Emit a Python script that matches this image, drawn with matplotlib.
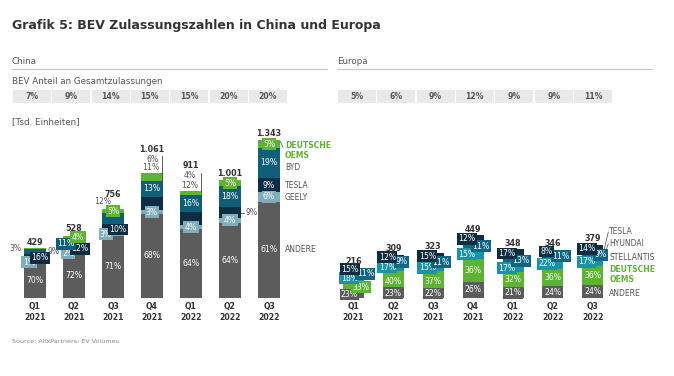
import matplotlib
matplotlib.use('Agg')
import matplotlib.pyplot as plt
from matplotlib.patches import Rectangle
from matplotlib.lines import Line2D

W, H = 674, 376
plt.rcParams['font.family'] = ['DejaVu Sans']

# ---------------- data ----------------
quarters = ['Q1', 'Q2', 'Q3', 'Q4', 'Q1', 'Q2', 'Q3']
years = ['2021', '2021', '2021', '2021', '2022', '2022', '2022']

china_share = ['7%', '9%', '14%', '15%', '15%', '20%', '20%']
europe_share = ['5%', '6%', '9%', '12%', '9%', '9%', '11%']

china_totals = [429, 528, 756, 1061, 911, 1001, 1343]
china_total_labels = ['429', '528', '756', '1.061', '911', '1.001', '1.343']
china_names = ['ANDERE', 'GEELY', 'TESLA', 'BYD', 'DEUTSCHE\nOEMS']
china_andere = [70, 72, 71, 68, 64, 64, 61]
china_geely = [1, 2, 3, 3, 4, 4, 6]
china_tesla = [16, 12, 10, 11, 12, 9, 9]
china_byd = [9, 11, 12, 13, 16, 18, 19]
china_de = [3, 4, 5, 6, 4, 5, 5]

europe_totals = [216, 309, 323, 449, 348, 346, 379]
europe_total_labels = ['216', '309', '323', '449', '348', '346', '379']
europe_names = ['ANDERE', 'DEUTSCHE\nOEMS', 'STELLANTIS', 'HYUNDAI', 'TESLA']
europe_andere = [23, 23, 22, 26, 21, 24, 24]
europe_de = [33, 40, 37, 36, 32, 36, 36]
europe_stellantis = [18, 17, 15, 15, 17, 22, 17]
europe_hyundai = [11, 9, 11, 11, 13, 11, 9]
europe_tesla = [15, 12, 15, 12, 17, 8, 14]

# ---------------- styles ----------------
C_GREY = '#5c5c5c'
C_GEELY = '#7fadbc'
C_NAVY = '#0d2e42'
C_TEAL = '#0f5f78'
C_CYAN = '#1a93a8'
C_GREEN = '#5db431'
TXT = '#555555'
DARK = '#333333'

china_colors = [C_GREY, C_GEELY, C_NAVY, C_TEAL, C_GREEN]
europe_colors = [C_GREY, C_GREEN, C_CYAN, '#0f6682', C_NAVY]

fig = plt.figure(figsize=(W / 100, H / 100), dpi=100)


def fpos(x, y):
    return x / W, 1 - y / H


# ---------------- header ----------------
fig.text(*fpos(12, 25), 'Grafik 5: BEV Zulassungszahlen in China und Europa',
         fontsize=9.0, fontweight='bold', color=DARK, ha='left', va='center')

for (x0, x1, name, shares) in [(12, 327, 'China', china_share),
                               (337, 652, 'Europa', europe_share)]:
    fig.text(*fpos(x0, 61), name, fontsize=6.3, color=TXT, ha='left', va='center')
    fig.add_artist(Line2D([x0 / W, x1 / W], [1 - 69 / H, 1 - 69 / H],
                          color='#cfcfcf', lw=1.0, transform=fig.transFigure))
    for i, s in enumerate(shares):
        bx = x0 + 0.7 + 39.4 * i
        fig.add_artist(Rectangle(fpos(bx, 103), 38.0 / W, 13 / H, facecolor='#e9e9e9',
                                 edgecolor='none', transform=fig.transFigure))
        fig.text(*fpos(bx + 19, 96.5), s, fontsize=5.6, fontweight='bold',
                 color=TXT, ha='center', va='center')

fig.text(*fpos(12, 82), 'BEV Anteil an Gesamtzulassungen', fontsize=6.3, color=TXT,
         ha='left', va='center')
fig.text(*fpos(12, 122), '[Tsd. Einheiten]', fontsize=6.3, color=TXT, ha='left', va='center')
fig.text(*fpos(12, 341), 'Source: AlixPartners; EV Volumes', fontsize=4.6, color='#888888',
         ha='left', va='center')

YBASE = 298
YTOP = 120


def make_axes(x0, x1, c0, sp, ppu):
    ax = fig.add_axes([x0 / W, 1 - YBASE / H, (x1 - x0) / W, (YBASE - YTOP) / H])
    ax.set_xlim((x0 - c0) / sp, (x1 - c0) / sp)
    ax.set_ylim(0, (YBASE - YTOP) / ppu)
    ax.axis('off')
    return ax


def draw_panel(ax, totals, total_labels, series, colors, width, ppu, seg_style,
               total_off, base_range):
    n = len(totals)
    ax.plot(base_range, [0, 0], color='#d4d4d4', lw=0.8, zorder=1)
    tops = []
    centers = []
    for i in range(n):
        pcts = [s[i] for s in series]
        ssum = sum(pcts)
        bottom = 0.0
        cents = []
        for k, p in enumerate(pcts):
            h = totals[i] * p / ssum
            ax.bar(i, h, bottom=bottom, width=width, color=colors[k], edgecolor='none', zorder=2)
            cents.append(bottom + h / 2)
            bottom += h
        tops.append(bottom)
        centers.append(cents)
        for k, p in enumerate(pcts):
            st = seg_style.get((i, k), {})
            dx, dy = st.get('dx', 0), st.get('dy', 0)
            mode = st.get('mode', 'box')
            if mode == 'box':
                ax.annotate(f'{p}%', xy=(i, cents[k]), xytext=(dx, -dy), textcoords='offset pixels',
                            ha='center', va='center', fontsize=5.6, color='white', zorder=5,
                            bbox=dict(boxstyle='square,pad=0.18', fc=colors[k], ec='none'))
            else:
                ax.annotate(f'{p}%', xy=(i, cents[k]), xytext=(dx, -dy), textcoords='offset pixels',
                            ha=st.get('ha', 'center'), va='center', fontsize=5.6, color=TXT, zorder=5)
        ax.annotate(total_labels[i], xy=(i, bottom), xytext=(0, total_off.get(i, 7)),
                    textcoords='offset pixels', ha='center', va='center', fontsize=5.8,
                    fontweight='bold', color=DARK, zorder=5)
        ax.annotate(quarters[i], xy=(i, 0), xytext=(0, -9), textcoords='offset pixels',
                    ha='center', va='center', fontsize=5.6, fontweight='bold', color=DARK)
        ax.annotate(years[i], xy=(i, 0), xytext=(0, -20), textcoords='offset pixels',
                    ha='center', va='center', fontsize=5.6, fontweight='bold', color=DARK)
    return tops, centers


# ---------------- China ----------------
C0, SP, PPU = 35.0, 39.0, 0.1176
axc = make_axes(12, 330, C0, SP, PPU)
wc = 22 / SP
china_series = [china_andere, china_geely, china_tesla, china_byd, china_de]
china_style = {
    (0, 1): dict(dx=-6), (0, 2): dict(dx=5),
    (0, 3): dict(mode='out', dx=13, ha='left'), (0, 4): dict(mode='out', dx=-13, ha='right'),
    (1, 1): dict(dx=-6), (1, 2): dict(dx=6), (1, 3): dict(dx=-8, dy=2), (1, 4): dict(dx=4),
    (2, 1): dict(dx=-7), (2, 2): dict(dx=5, dy=1), (2, 3): dict(mode='out', dx=-10, dy=-17),
    (3, 2): dict(mode='out', dx=-1, dy=-35.5), (3, 4): dict(mode='out', dx=1, dy=-17.7),
    (4, 2): dict(mode='out', dx=-1, dy=-33.7), (4, 4): dict(mode='out', dx=-1, dy=-18),
    (5, 2): dict(mode='out', dx=15, ha='left'),
}
china_total_off = {2: 15, 3: 24, 4: 25, 0: 5}
tops_c, cents_c = draw_panel(axc, china_totals, china_total_labels, china_series, china_colors,
                             wc, PPU, china_style, china_total_off, [-0.55, 6.55])
# leader lines (China)
for i, (up, down) in {3: (17, -11), 4: (18, -1)}.items():
    xr = i + wc / 2 - 0.02
    axc.plot([xr, xr], [tops_c[i] + up / PPU, tops_c[i] + down / PPU], color='#444444', lw=0.6, zorder=6)
xr = 5 + wc / 2
axc.plot([xr, xr + 3 / SP], [cents_c[5][2]] * 2, color='#444444', lw=0.6, zorder=6)
# legend (China)
last = len(china_totals) - 1
lx = last + wc / 2 + 5 / SP
legend_dy_c = {0: 0, 1: 1, 2: 0, 3: 5, 4: 1}
for k, name in enumerate(china_names):
    y = cents_c[last][k] - legend_dy_c[k] / PPU
    if k == 4:
        axc.annotate('DEUTSCHE', xy=(lx, y), xytext=(0, 0), textcoords='offset pixels',
                     ha='left', va='center', fontsize=5.5, fontweight='bold', color=C_GREEN)
        axc.annotate('OEMS', xy=(lx, y), xytext=(0, -10.5), textcoords='offset pixels',
                     ha='left', va='center', fontsize=5.5, fontweight='bold', color=C_GREEN)
    else:
        axc.annotate(name, xy=(lx, y), ha='left', va='center', fontsize=5.5, color=TXT)
axc.plot([last + wc / 2, last + wc / 2 + 3 / SP],
         [tops_c[last] - 1 / PPU, tops_c[last] - 7 / PPU], color='#444444', lw=0.5)

# ---------------- Europe ----------------
E0, ESP, EPPU = 353.4, 39.9, 0.14
axe = make_axes(330, 670, E0, ESP, EPPU)
we = 21 / ESP
europe_series = [europe_andere, europe_de, europe_stellantis, europe_hyundai, europe_tesla]
europe_style = {}
for i in range(7):
    europe_style[(i, 2)] = dict(dx=-6)
    europe_style[(i, 3)] = dict(dx=8)
    europe_style[(i, 4)] = dict(dx=-6)
    europe_style[(i, 1)] = dict(dy=2 if i in (1, 2) else 0)
europe_style[(0, 0)] = dict(dx=-4)
europe_style[(0, 1)] = dict(dx=7.5, dy=1)
europe_style[(0, 3)] = dict(dx=12)
europe_style[(0, 2)] = dict(dx=-4)
europe_style[(0, 4)] = dict(dx=-3.5, dy=-1)
tops_e, cents_e = draw_panel(axe, europe_totals, europe_total_labels, europe_series, europe_colors,
                             we, EPPU, europe_style, {i: 6 for i in range(7)}, [-0.6, 6.6])
last = len(europe_totals) - 1
lx = last + we / 2 + 6 / ESP
legend_y_e = {4: 232, 3: 244, 2: 257, 0: 293}
for k, name in enumerate(europe_names):
    if k == 1:
        y = cents_e[last][k] + 1 / EPPU
        axe.annotate('DEUTSCHE', xy=(lx, y), xytext=(0, 5), textcoords='offset pixels',
                     ha='left', va='center', fontsize=5.5, fontweight='bold', color=C_GREEN)
        axe.annotate('OEMS', xy=(lx, y), xytext=(0, -5), textcoords='offset pixels',
                     ha='left', va='center', fontsize=5.5, fontweight='bold', color=C_GREEN)
    else:
        y = (YBASE - legend_y_e[k]) / EPPU
        axe.annotate(name, xy=(lx, y), ha='left', va='center', fontsize=5.5, color=TXT)
        if k in (3, 4):
            axe.plot([lx - 1 / ESP, last + we / 2 + 1 / ESP],
                     [y, cents_e[last][k]], color='#444444', lw=0.5)

fig.savefig('out.png', dpi=100)
